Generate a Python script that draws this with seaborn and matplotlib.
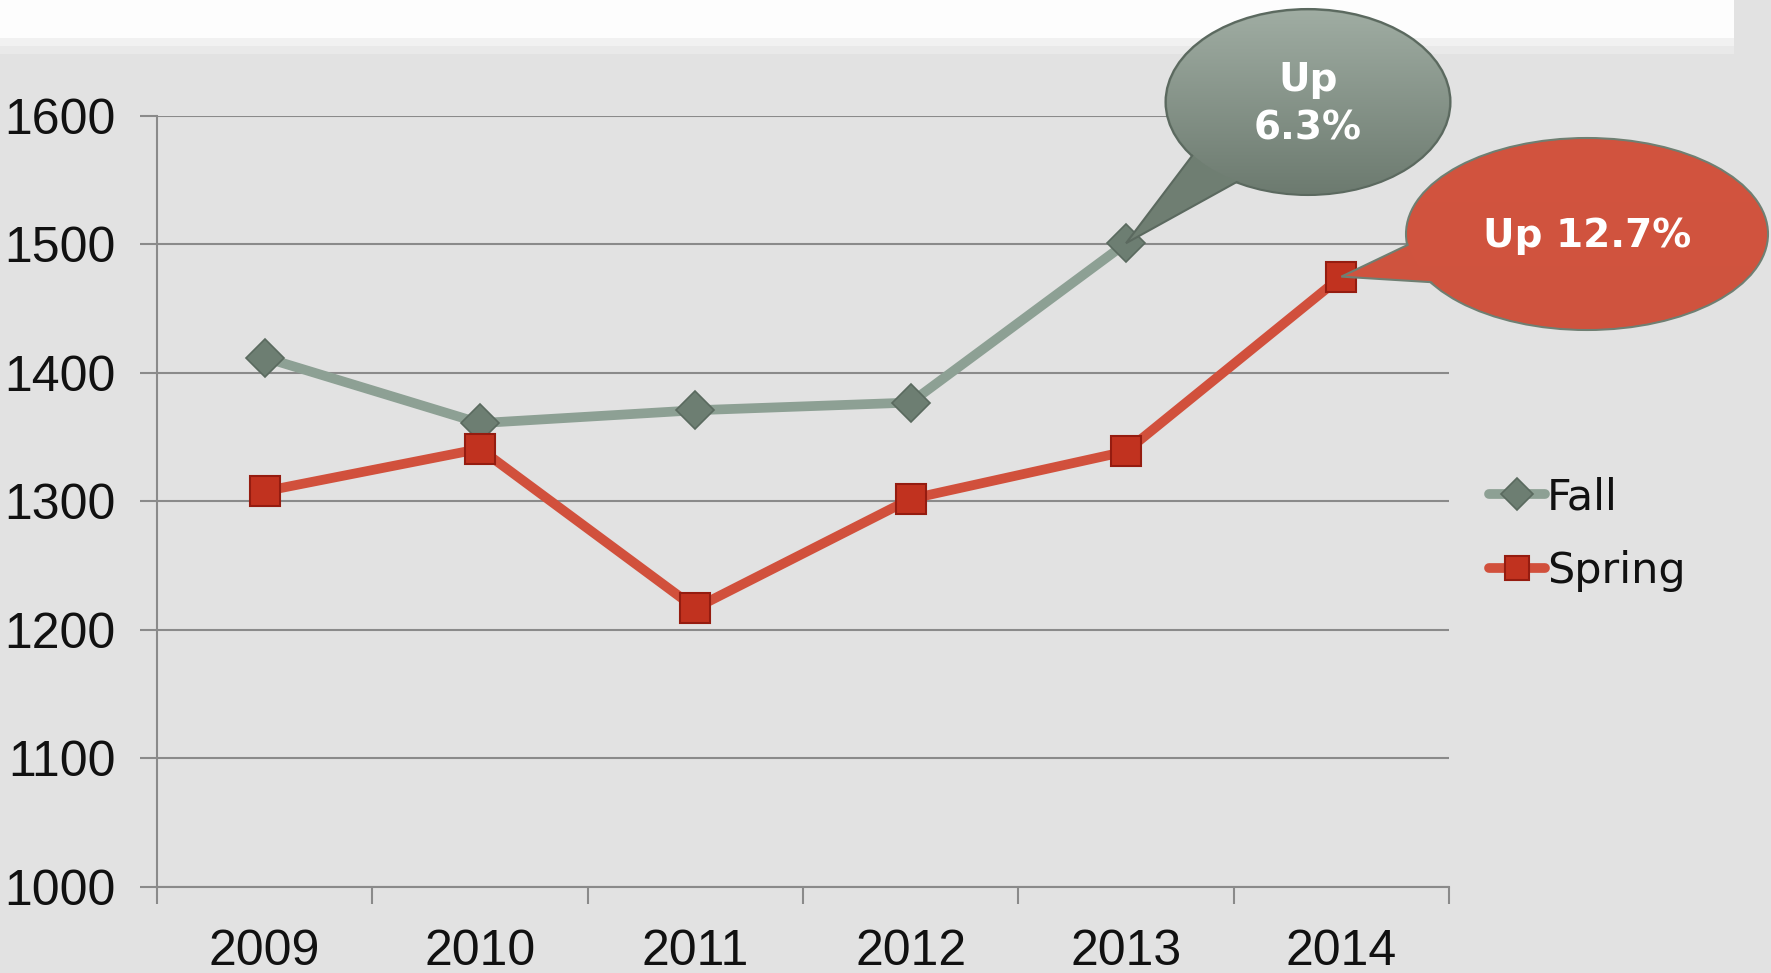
import numpy as np
import pandas as pd
import matplotlib
matplotlib.use("Agg")
import matplotlib.pyplot as plt
import seaborn as sns
from matplotlib.patches import Ellipse, Polygon, Rectangle

years = ["2009", "2010", "2011", "2012", "2013", "2014"]
fall = [1412, 1361, 1371, 1377, 1501, np.nan]
spring = [1308, 1341, 1217, 1302, 1339, 1475]
yticks = [1000, 1100, 1200, 1300, 1400, 1500, 1600]

sns.set_style("white")
plt.rcParams["font.family"] = ["DejaVu Sans"]

W, H = 1771, 973
fig = plt.figure(figsize=(W / 100, H / 100), dpi=100)
fig.patch.set_facecolor("#e2e2e2")

ax = fig.add_axes([157 / W, 1 - 887 / H, (1449 - 157) / W, (887 - 116) / H])
ax.set_facecolor("none")

df = pd.DataFrame({"year": years, "Fall": fall, "Spring": spring})

sns.lineplot(data=df, x="year", y="Fall", ax=ax, color="#8da094", lw=7,
             marker="D", markersize=19, markerfacecolor="#6d7e72",
             markeredgecolor="#5a6a5f", markeredgewidth=1.2, label="Fall", sort=False)
sns.lineplot(data=df, x="year", y="Spring", ax=ax, color="#d1503c", lw=7,
             marker="s", markersize=21, markerfacecolor="#c1321f",
             markeredgecolor="#951c10", markeredgewidth=1.5, label="Spring", sort=False)

ax.set_xlim(-0.5, 5.5)
ax.set_ylim(1000, 1600)
ax.set_yticks(yticks)
ax.set_xlabel("")
ax.set_ylabel("")

grid_c = "#8a8a8a"
ax.yaxis.grid(True, color=grid_c, lw=1.5)
ax.xaxis.grid(False)
ax.set_axisbelow(True)
for s in ["top", "right"]:
    ax.spines[s].set_visible(False)
for s in ["left", "bottom"]:
    ax.spines[s].set_color(grid_c)
    ax.spines[s].set_linewidth(1.5)

ax.set_xticks(np.arange(-0.5, 6, 1), minor=True)
ax.tick_params(axis="x", which="major", bottom=True, length=0, pad=30)
ax.tick_params(axis="x", which="minor", bottom=True, length=12, width=1.5, color=grid_c)
ax.tick_params(axis="y", left=True, length=12, width=1.5, color=grid_c, pad=18)
for lab in ax.get_xticklabels() + ax.get_yticklabels():
    lab.set_fontfamily(["Liberation Sans", "DejaVu Sans"])
    lab.set_fontsize(36)
    lab.set_color("#111111")

ax.legend(loc="upper left", bbox_to_anchor=(1489 / W, 1 - 476 / H),
          bbox_transform=fig.transFigure, frameon=False, fontsize=31,
          handlelength=1.3, handletextpad=0.05, labelspacing=0.75,
          borderpad=0, borderaxespad=0, markerscale=0.85, labelcolor="#111111")

# overlay in pixel coordinates for the banner and callouts
ov = fig.add_axes([0, 0, 1, 1], zorder=10)
ov.set_xlim(0, W)
ov.set_ylim(H, 0)
ov.axis("off")
ov.patch.set_alpha(0)

ov.add_patch(Rectangle((0, 0), 1734, 38, fc="#fdfdfd", ec="none"))
ov.add_patch(Rectangle((0, 38), 1734, 8, fc="#f1f1f1", ec="none"))
ov.add_patch(Rectangle((0, 46), 1734, 8, fc="#e9e9e9", ec="none"))


def to_px(x, y):
    d = ax.transData.transform((x, y))
    return d[0], H - d[1]


def bubble(cx, cy, w, h, ang1, ang2, tip, top_c, bot_c, tail_c, edge_c, text):
    a, b = w / 2, h / 2
    base = [(cx + 0.9 * a * np.cos(np.radians(t)), cy + 0.9 * b * np.sin(np.radians(t)))
            for t in (ang1, ang2)]
    ov.add_patch(Ellipse((cx, cy), w, h, fc=bot_c, ec=edge_c, lw=1.5, zorder=1))
    ov.add_patch(Polygon([base[0], tip, base[1]], closed=True, fc=tail_c,
                         ec=edge_c, lw=1.5, zorder=2, joinstyle="miter"))
    clip = Ellipse((cx, cy), w - 3, h - 3, fc="none", ec="none", transform=ov.transData)
    ov.add_patch(clip)
    grad = np.linspace(0, 1, 256)[:, None]
    cmap = matplotlib.colors.LinearSegmentedColormap.from_list("g", [top_c, bot_c])
    im = ov.imshow(grad, cmap=cmap, extent=(cx - a, cx + a, cy + b, cy - b),
                   aspect="auto", zorder=3, interpolation="bilinear")
    im.set_clip_path(clip)
    ov.set_xlim(0, W)
    ov.set_ylim(H, 0)
    ov.text(cx, cy + 2, text, color="white", fontsize=28, fontweight="bold",
            ha="center", va="center", linespacing=1.35, zorder=4)


fall_tip = to_px(4, fall[4])
spring_tip = to_px(5, spring[5])
bubble(1308, 102, 285, 186, 118, 148, fall_tip, "#a0ada3", "#6c7a6f", "#6f7e72",
       "#5b695f", "Up\n6.3%")
bubble(1587, 234, 362, 192, 145, 178, spring_tip, "#d2543f", "#cf533e", "#cf533e",
       "#6f7f72", "Up 12.7%")

fig.savefig("out.png", dpi=100)
